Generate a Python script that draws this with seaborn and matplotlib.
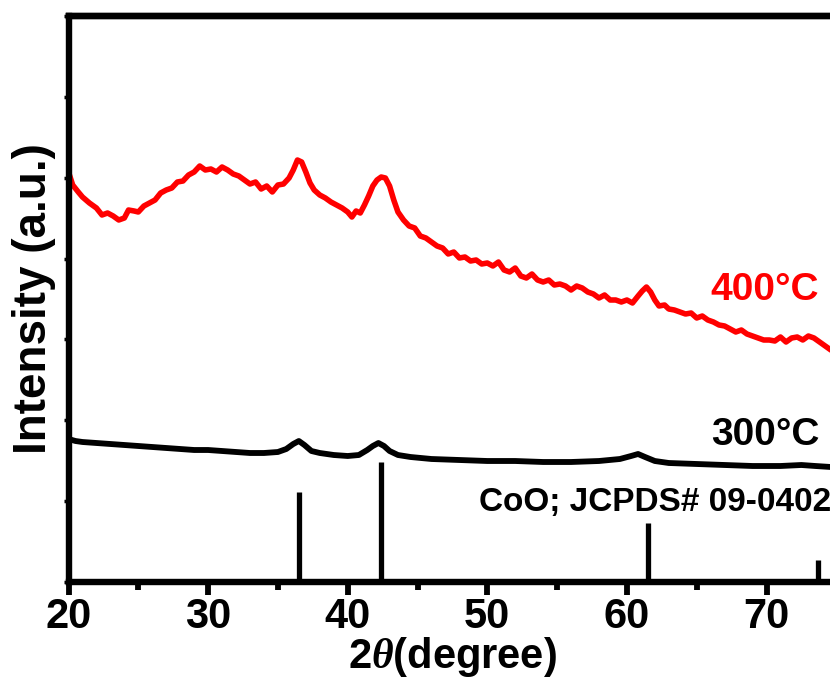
import numpy as np
import pandas as pd
import matplotlib
matplotlib.use("Agg")
import matplotlib.pyplot as plt
from matplotlib.ticker import MultipleLocator
import seaborn as sns

# XRD pattern of the 400 °C sample (2θ in degrees, intensity in a.u.)
two_theta_400 = [20.0, 20.3, 20.7, 21.0, 21.5, 22.0, 22.4, 22.8, 23.2, 23.6, 24.0, 24.3, 24.7, 25.0,
                 25.4, 25.8, 26.2, 26.6, 27.0, 27.4, 27.8, 28.2, 28.6, 29.0, 29.4, 29.8, 30.2, 30.6,
                 31.0, 31.4, 31.8, 32.2, 32.6, 33.0, 33.4, 33.8, 34.2, 34.6, 35.0, 35.4, 35.8, 36.1,
                 36.4, 36.7, 37.0, 37.3, 37.6, 38.0, 38.4, 38.8, 39.2, 39.6, 40.0, 40.3, 40.6, 40.9,
                 41.2, 41.5, 41.8, 42.1, 42.4, 42.7, 43.0, 43.3, 43.6, 44.0, 44.4, 44.8, 45.2, 45.6,
                 46.0, 46.4, 46.8, 47.2, 47.6, 48.0, 48.4, 48.8, 49.2, 49.6, 50.0, 50.4, 50.8, 51.2,
                 51.6, 52.0, 52.4, 52.8, 53.2, 53.6, 54.0, 54.4, 54.8, 55.2, 55.6, 56.0, 56.4, 56.8,
                 57.2, 57.6, 58.0, 58.4, 58.8, 59.2, 59.6, 60.0, 60.4, 60.8, 61.1, 61.4, 61.7, 62.0,
                 62.3, 62.7, 63.0, 63.4, 63.8, 64.2, 64.6, 65.0, 65.4, 65.8, 66.2, 66.6, 67.0, 67.4,
                 67.8, 68.2, 68.6, 69.0, 69.4, 69.8, 70.2, 70.6, 71.0, 71.4, 71.8, 72.2, 72.6, 73.0,
                 73.4, 73.8, 74.2, 74.6, 75.0]
intensity_400 = [410, 397, 390, 385, 379, 374, 367, 369, 366, 362, 364, 372, 371, 370,
                 376, 379, 382, 389, 392, 394, 400, 401, 407, 410, 416, 412, 413, 410,
                 415, 412, 408, 406, 402, 398, 400, 393, 396, 390, 397, 398, 404, 412,
                 422, 420, 410, 399, 392, 387, 384, 380, 377, 374, 370, 365, 371, 369,
                 377, 386, 396, 402, 405, 404, 396, 382, 370, 362, 356, 354, 346, 344,
                 340, 336, 334, 328, 330, 324, 325, 321, 322, 318, 319, 316, 320, 312,
                 310, 314, 306, 304, 308, 302, 300, 302, 297, 298, 296, 292, 296, 294,
                 290, 288, 284, 287, 282, 282, 280, 282, 279, 286, 291, 295, 290, 282,
                 276, 277, 273, 272, 270, 268, 269, 264, 266, 262, 260, 257, 256, 253,
                 250, 252, 248, 246, 244, 242, 242, 241, 245, 240, 244, 245, 242, 246,
                 244, 240, 236, 232, 230]

# XRD pattern of the 300 °C sample
two_theta_300 = [20.0, 20.5, 21.0, 22.0, 23.0, 24.0, 25.0, 26.0, 27.0, 28.0, 29.0, 30.0, 31.0,
                 32.0, 33.0, 34.0, 35.0, 35.6, 36.1, 36.5, 36.9, 37.4, 38.0, 39.0, 40.0, 40.8,
                 41.4, 41.8, 42.2, 42.6, 43.0, 43.6, 44.5, 46.0, 48.0, 50.0, 52.0, 54.0, 56.0,
                 58.0, 59.5, 60.3, 60.8, 61.3, 62.0, 63.0, 65.0, 67.0, 69.0, 71.0, 72.5, 73.5,
                 74.6, 75.0]
intensity_300 = [143, 141, 140, 139, 138, 137, 136, 135, 134, 133, 132, 132, 131,
                 130, 129, 129, 130, 133, 138, 141, 137, 131, 129, 127, 126, 127,
                 132, 136, 139, 136, 131, 127, 125, 123, 122, 121, 121, 120, 120,
                 121, 123, 126, 128, 125, 121, 119, 118, 117, 116, 116, 117, 116,
                 115, 115]

# CoO reference lines (JCPDS# 09-0402)
ref_positions = [36.5, 42.4, 61.5, 73.7]
ref_heights = [90, 120, 59, 22]

sample_labels = ["400\u00b0C", "300\u00b0C"]
ref_label = "CoO; JCPDS# 09-0402"
x_ticks = [20, 30, 40, 50, 60, 70]

sns.set_style("ticks")
plt.rcParams["font.family"] = ["Liberation Sans", "DejaVu Sans"]
plt.rcParams["font.weight"] = "bold"
plt.rcParams["text.color"] = "black"
plt.rcParams["axes.labelcolor"] = "black"
plt.rcParams["xtick.color"] = "black"
plt.rcParams["ytick.color"] = "black"
plt.rcParams["xtick.labelcolor"] = "black"
plt.rcParams["mathtext.fontset"] = "custom"
plt.rcParams["mathtext.it"] = "Liberation Serif:italic"
plt.rcParams["mathtext.rm"] = "Liberation Sans:bold"

W, H = 830, 691
fig = plt.figure(figsize=(W / 100, H / 100), dpi=100)
ax = fig.add_axes([68.5 / W, 109 / H, 767.8 / W, 566 / H])

df400 = pd.DataFrame({"2theta": two_theta_400, "I": intensity_400})
df300 = pd.DataFrame({"2theta": two_theta_300, "I": intensity_300})
sns.lineplot(data=df400, x="2theta", y="I", ax=ax, color="#ff0000", linewidth=4.0,
             estimator=None, sort=False)
sns.lineplot(data=df300, x="2theta", y="I", ax=ax, color="black", linewidth=4.2,
             estimator=None, sort=False)
ax.vlines(ref_positions, 0, ref_heights, colors="black", linewidth=3.8)

ax.set_xlim(20, 75)
ax.set_ylim(0, 566)

ax.set_xticks(x_ticks)
ax.xaxis.set_minor_locator(MultipleLocator(5))
ax.yaxis.set_major_locator(MultipleLocator(566 / 7))
ax.set_yticklabels([])
ax.tick_params(axis="x", which="major", direction="out", length=9.5, width=4.2,
               labelsize=30, pad=1, color="black", labelcolor="black")
ax.tick_params(axis="x", which="minor", direction="out", length=6, width=4.2, color="black")
ax.tick_params(axis="y", which="major", direction="out", length=3.5, width=2.5,
               color="black")
for lab in ax.get_xticklabels():
    lab.set_fontweight("bold")

for side in ["left", "bottom", "top", "right"]:
    ax.spines[side].set_linewidth(4.6)
    ax.spines[side].set_color("black")
    ax.spines[side].set_visible(True)

top = ax.secondary_xaxis("top")
top.set_xticks(np.arange(20, 80, 5))
top.tick_params(direction="in", length=2, width=1.5, color="#555555", labeltop=False)
top.spines["top"].set_linewidth(4.6)

ax.set_xlabel("2$\\mathit{\\theta}$(degree)", fontsize=30, fontweight="bold",
              labelpad=-1, color="black")
ax.set_ylabel("Intensity (a.u.)", fontsize=33, fontweight="bold", labelpad=2,
              color="black")

ax.text(69.9, 292, sample_labels[0], color="#ff0000", fontsize=28, fontweight="bold",
        ha="center", va="center")
ax.text(69.9, 147, sample_labels[1], color="black", fontsize=28, fontweight="bold",
        ha="center", va="center")
ax.text(62.0, 79, ref_label, color="black", fontsize=24, fontweight="bold",
        ha="center", va="center")

fig.savefig("out.png", dpi=100)
